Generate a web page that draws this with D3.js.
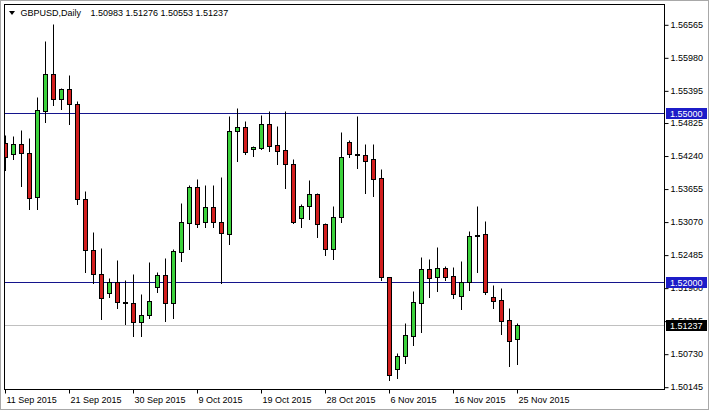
<!DOCTYPE html>
<html>
<head>
<meta charset="utf-8">
<script src="https://cdn.jsdelivr.net/npm/d3@7"></script>
<style>
  html, body { margin: 0; padding: 0; background: #fff; }
  svg { display: block; font-family: "Liberation Sans", Arial, sans-serif; }
</style>
</head>
<body>
<svg id="chart" width="709" height="410"></svg>
<script>
// GBPUSD daily, 11 Sep 2015 - 25 Nov 2015 (broker with Sunday bars)
var dates = [
  "2015-09-11","2015-09-13","2015-09-14","2015-09-15","2015-09-16","2015-09-17","2015-09-18",
  "2015-09-20","2015-09-21","2015-09-22","2015-09-23","2015-09-24","2015-09-25",
  "2015-09-27","2015-09-28","2015-09-29","2015-09-30","2015-10-01","2015-10-02",
  "2015-10-04","2015-10-05","2015-10-06","2015-10-07","2015-10-08","2015-10-09",
  "2015-10-11","2015-10-12","2015-10-13","2015-10-14","2015-10-15","2015-10-16",
  "2015-10-18","2015-10-19","2015-10-20","2015-10-21","2015-10-22","2015-10-23",
  "2015-10-25","2015-10-26","2015-10-27","2015-10-28","2015-10-29","2015-10-30",
  "2015-11-01","2015-11-02","2015-11-03","2015-11-04","2015-11-05","2015-11-06",
  "2015-11-08","2015-11-09","2015-11-10","2015-11-11","2015-11-12","2015-11-13",
  "2015-11-15","2015-11-16","2015-11-17","2015-11-18","2015-11-19","2015-11-20",
  "2015-11-22","2015-11-23","2015-11-24","2015-11-25"
];

var opens = [
  1.54458, 1.54263, 1.54440, 1.54280, 1.53501, 1.55035, 1.55685, 1.55237, 1.55414, 1.55148,
  1.53466, 1.52568, 1.52138, 1.51801, 1.51996, 1.51640, 1.51624, 1.51298, 1.51417, 1.51907,
  1.52125, 1.51624, 1.52527, 1.53041, 1.53678, 1.53058, 1.53324, 1.53069, 1.52846, 1.54681,
  1.54741, 1.54351, 1.54380, 1.54799, 1.54427, 1.54339, 1.54091, 1.53129, 1.53347, 1.53560,
  1.53023, 1.52580, 1.53158, 1.54475, 1.54268, 1.54245, 1.54174, 1.53838, 1.52084, 1.50455,
  1.50691, 1.51050, 1.51624, 1.52226, 1.52084, 1.52244, 1.52107, 1.51759, 1.51996, 1.52826,
  1.52851, 1.51730, 1.51682, 1.51328, 1.50983
];
var highs = [
  1.54605, 1.54587, 1.54693, 1.54551, 1.55272, 1.56269, 1.56570, 1.55437, 1.55667, 1.55207,
  1.53618, 1.52887, 1.52598, 1.52072, 1.52391, 1.52037, 1.52138, 1.51789, 1.52350, 1.52184,
  1.52421, 1.52586, 1.53395, 1.53719, 1.53825, 1.53719, 1.53719, 1.53855, 1.54941, 1.55077,
  1.54852, 1.54410, 1.54959, 1.55035, 1.54764, 1.55030, 1.54174, 1.53383, 1.53808, 1.53572,
  1.53046, 1.53347, 1.54663, 1.54516, 1.54946, 1.54445, 1.54445, 1.54002, 1.52090, 1.50738,
  1.51280, 1.51847, 1.52449, 1.52409, 1.52626, 1.52285, 1.52262, 1.52373, 1.52910, 1.53347,
  1.53081, 1.51948, 1.51890, 1.51546, 1.51276
];
var lows = [
  1.53985, 1.54174, 1.53707, 1.53289, 1.53289, 1.54840, 1.55131, 1.55070, 1.54794, 1.53377,
  1.52184, 1.51989, 1.51341, 1.51741, 1.51546, 1.51257, 1.51045, 1.51045, 1.51358, 1.51829,
  1.51316, 1.51369, 1.52378, 1.52586, 1.52981, 1.52970, 1.52970, 1.51989, 1.52669, 1.54144,
  1.54268, 1.54238, 1.54357, 1.54327, 1.54091, 1.53671, 1.53041, 1.52970, 1.53112, 1.52803,
  1.52479, 1.52403, 1.53069, 1.54220, 1.54015, 1.53583, 1.53530, 1.52037, 1.50266, 1.50296,
  1.50561, 1.50885, 1.51121, 1.51730, 1.51847, 1.52037, 1.51723, 1.51518, 1.51860, 1.52184,
  1.51783, 1.51546, 1.51075, 1.50519, 1.50553
];
var closes = [
  1.54220, 1.54440, 1.54280, 1.53483, 1.55047, 1.55685, 1.55237, 1.55414, 1.55148, 1.53466,
  1.52568, 1.52138, 1.51713, 1.52006, 1.51642, 1.51630, 1.51298, 1.51417, 1.51665, 1.52125,
  1.51624, 1.52550, 1.53058, 1.53678, 1.53023, 1.53324, 1.53069, 1.52864, 1.54681, 1.54741,
  1.54298, 1.54387, 1.54799, 1.54415, 1.54327, 1.54086, 1.53069, 1.53347, 1.53560, 1.53023,
  1.52580, 1.53158, 1.54220, 1.54263, 1.54258, 1.54149, 1.53831, 1.52084, 1.50354, 1.50691,
  1.51063, 1.51642, 1.52226, 1.52067, 1.52244, 1.52095, 1.51783, 1.51996, 1.52816, 1.52816,
  1.51819, 1.51670, 1.51316, 1.50962, 1.51237
];

var priceTicks = [1.56565, 1.55980, 1.55395, 1.54825, 1.54240, 1.53655, 1.53070,
                  1.52485, 1.51900, 1.51315, 1.50730, 1.50145];
var dateTicks = ["2015-09-11","2015-09-21","2015-09-30","2015-10-09","2015-10-19",
                 "2015-10-28","2015-11-06","2015-11-16","2015-11-25"];
var levels = [1.55000, 1.52000];
var symbol = "GBPUSD,Daily";

var svg = d3.select("#chart");
var plot = {left: 4, right: 664, top: 4, bottom: 389};

var parseDate = d3.timeParse("%Y-%m-%d"),
    fmtDate = d3.timeFormat("%-d %b %Y"),
    fmtPrice = d3.format(".5f");

var data = dates.map(function(d, i) {
  return {date: parseDate(d), i: i, o: opens[i], h: highs[i], l: lows[i], c: closes[i]};
});
var last = data[data.length - 1];

// 8px per bar, first bar sits on the left border
var x = d3.scaleLinear().domain([0, 1]).range([5, 13]);
var y = d3.scaleLinear().domain([1.50145, 1.56565]).range([386.7, 24.3]);

var RED = "#d21e1e", GREEN = "#3cd23c", LINE = "#14148c", LABEL = "#1c1cc8";

// outer frame
svg.append("rect")
  .attr("x", 0.5).attr("y", 0.5).attr("width", 708).attr("height", 409)
  .attr("fill", "#fff").attr("stroke", "#a8a8a8");

svg.append("clipPath").attr("id", "clip")
  .append("rect")
  .attr("x", plot.left).attr("y", plot.top)
  .attr("width", plot.right - plot.left).attr("height", plot.bottom - plot.top);

var g = svg.append("g").attr("clip-path", "url(#clip)");

// current price line (bid)
g.append("line")
  .attr("x1", plot.left).attr("x2", plot.right)
  .attr("y1", Math.round(y(last.c)) + 0.5).attr("y2", Math.round(y(last.c)) + 0.5)
  .attr("stroke", "#c0c0c0");

// horizontal levels
g.selectAll("line.level").data(levels).enter().append("line")
  .attr("class", "level")
  .attr("x1", plot.left).attr("x2", plot.right)
  .attr("y1", function(d) { return Math.round(y(d)) + 0.5; })
  .attr("y2", function(d) { return Math.round(y(d)) + 0.5; })
  .attr("stroke", LINE);

function px(v) { return Math.round(v) + 0.5; }

var candles = g.selectAll("g.candle").data(data).enter().append("g").attr("class", "candle");

candles.append("line")
  .attr("x1", function(d) { return px(x(d.i)); })
  .attr("x2", function(d) { return px(x(d.i)); })
  .attr("y1", function(d) { return px(y(d.h)); })
  .attr("y2", function(d) { return px(y(d.l)) + 0.5; })
  .attr("stroke", "#000");

candles.each(function(d) {
  var sel = d3.select(this);
  var cx = Math.round(x(d.i));
  var yt = px(y(Math.max(d.o, d.c))), yb = px(y(Math.min(d.o, d.c)));
  if (yb - yt < 1) {
    sel.append("line")
      .attr("x1", cx - 2).attr("x2", cx + 3)
      .attr("y1", yt).attr("y2", yt)
      .attr("stroke", "#000");
  } else {
    sel.append("rect")
      .attr("x", cx - 1.5).attr("width", 4)
      .attr("y", yt).attr("height", yb - yt)
      .attr("fill", d.c >= d.o ? GREEN : RED)
      .attr("stroke", "#000");
  }
});

// plot border
svg.append("rect")
  .attr("x", plot.left + 0.5).attr("y", plot.top + 0.5)
  .attr("width", plot.right - plot.left).attr("height", plot.bottom - plot.top)
  .attr("fill", "none").attr("stroke", "#000");

// price axis
var yAxis = svg.append("g")
  .attr("transform", "translate(" + (plot.right + 0.5) + ",0)")
  .call(d3.axisRight(y).tickValues(priceTicks).tickFormat(fmtPrice).tickSize(4).tickPadding(2));
yAxis.select(".domain").remove();
yAxis.selectAll(".tick line").attr("transform", "translate(0,0.5)");
yAxis.selectAll("text").attr("font-size", 9).attr("font-family", "Liberation Sans, Arial, sans-serif").attr("fill", "#000");

// date axis
var tickIdx = dateTicks.map(function(s) { return dates.indexOf(s); });
var xAxis = svg.append("g")
  .attr("transform", "translate(0," + (plot.bottom + 0.5) + ")")
  .call(d3.axisBottom(x).tickValues(tickIdx)
    .tickFormat(function(i) { return fmtDate(data[i].date); })
    .tickSize(4).tickPadding(3));
xAxis.select(".domain").remove();
xAxis.selectAll(".tick").attr("transform", function(i) { return "translate(" + px(x(i)) + ",0)"; });
xAxis.selectAll("text")
  .attr("text-anchor", "start").attr("x", 1)
  .attr("font-size", 9).attr("font-family", "Liberation Sans, Arial, sans-serif").attr("fill", "#000");

// price labels on the axis
function priceLabel(v, bg) {
  var cy = Math.round(y(v));
  svg.append("rect")
    .attr("x", plot.right + 2).attr("y", cy - 5).attr("width", 41).attr("height", 11)
    .attr("fill", bg);
  svg.append("text")
    .attr("x", plot.right + 6).attr("y", cy + 3.5)
    .attr("font-size", 9).attr("fill", "#fff")
    .text(fmtPrice(v));
}
levels.forEach(function(v) { priceLabel(v, LABEL); });
priceLabel(last.c, "#000");

// header
svg.append("path").attr("d", "M9,11 L15,11 L12,15 Z").attr("fill", "#000");
svg.append("text").attr("x", 20.5).attr("y", 16).attr("font-size", 9).text(symbol);
svg.append("text").attr("x", 90.5).attr("y", 16).attr("font-size", 9)
  .text([last.o, last.h, last.l, last.c].map(fmtPrice).join(" "));
</script>
</body>
</html>
